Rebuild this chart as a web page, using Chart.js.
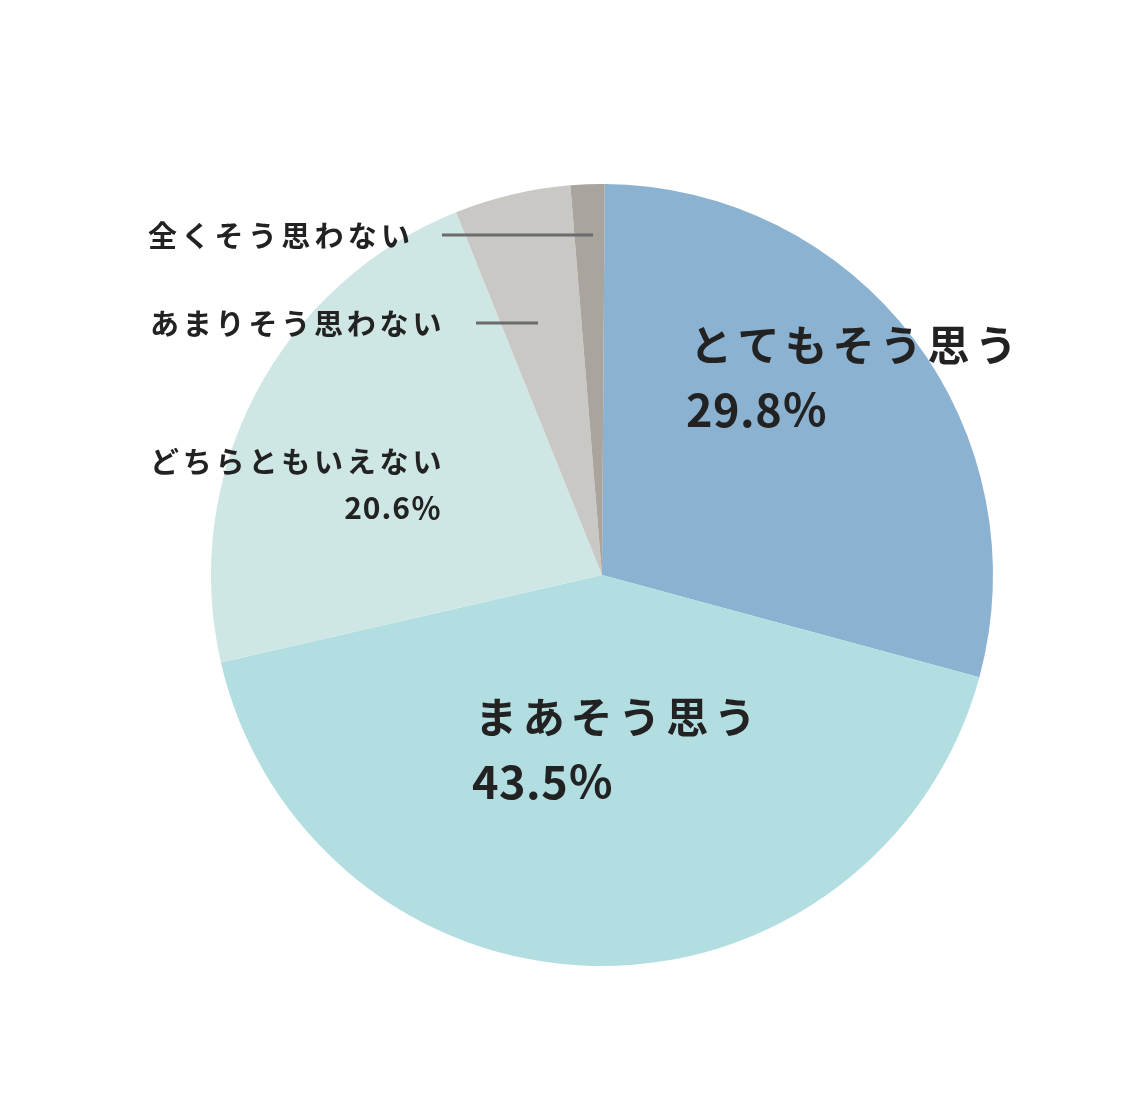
<!DOCTYPE html>
<html><head><meta charset="utf-8">
<script src="https://cdn.jsdelivr.net/npm/chart.js@4"></script>
<style>html,body{margin:0;padding:0;background:#fff}canvas{display:block}</style>
</head><body>
<canvas id="c" width="1131" height="1114"></canvas>
<script>
const categories = ["とてもそう思う","まあそう思う","どちらともいえない","あまりそう思わない","全くそう思わない"];
const values = [29.1, 42.2, 22.5, 4.8, 1.4];
// printed percentage labels
const percentLabels = ["29.8％","43.5％","20.6％","",""];
const colors = ["#8bb2d1","#b2dde1","#cee7e4","#c9c8c4","#a9a49d"];

const FONT = '"Noto Sans CJK JP","Noto Sans",sans-serif';
const labelPlugin = {
  id: 'labels',
  afterDraw(chart) {
    const ctx = chart.ctx;
    ctx.save();
    ctx.fillStyle = '#222';
    ctx.textBaseline = 'alphabetic';
    function txt(s, x, y, size, sp, align) {
      ctx.font = 'bold ' + size + 'px ' + FONT;
      ctx.letterSpacing = sp + 'px';
      ctx.textAlign = align || 'left';
      ctx.fillText(s, x, y);
    }
    txt(categories[0], 690, 361, 42, 5.5);
    txt(percentLabels[0], 686, 427, 45, 0.5);
    txt(categories[1], 475, 733, 42, 5.8);
    txt(percentLabels[1], 472, 799, 45, 0.5);
    txt(categories[2], 150, 473, 29, 3.8);
    txt(percentLabels[2], 442, 519, 30, 1, 'right');
    txt(categories[3], 150, 335, 29, 3.8);
    txt(categories[4], 148, 247, 29, 4.3);
    ctx.strokeStyle = '#6b6b6b';
    ctx.lineWidth = 3;
    ctx.beginPath();
    ctx.moveTo(442, 235); ctx.lineTo(593, 235);
    ctx.moveTo(476, 323); ctx.lineTo(538, 323);
    ctx.stroke();
    ctx.restore();
  }
};

new Chart(document.getElementById('c'), {
  type: 'pie',
  data: { labels: categories, datasets: [{ data: values, backgroundColor: colors, borderWidth: 0 }] },
  options: {
    responsive: false,
    animation: false,
    rotation: 0.4,
    layout: { padding: { left: 211, right: 138, top: 184, bottom: 148 } },
    plugins: { legend: { display: false }, tooltip: { enabled: false } }
  },
  plugins: [labelPlugin]
});
</script>
</body></html>
